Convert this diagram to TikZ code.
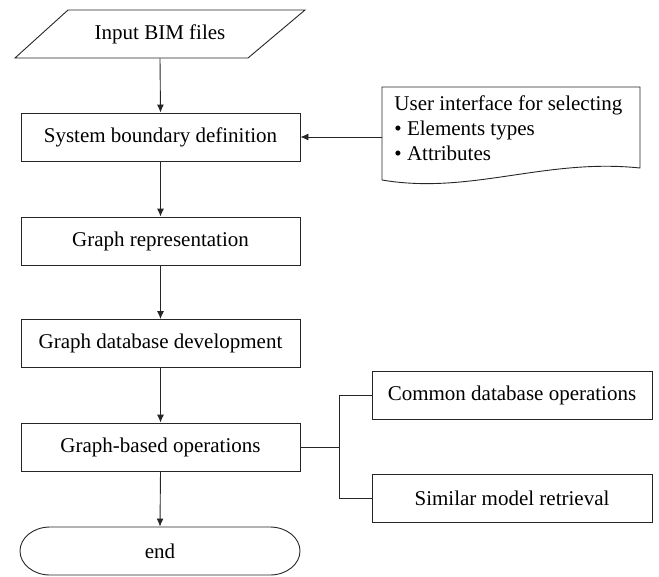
\documentclass[tikz,border=0pt]{standalone}
\usepackage{fontspec}
\setmainfont{Liberation Serif}
\usetikzlibrary{arrows.meta}
\begin{document}
\begin{tikzpicture}[x=1pt,y=-1pt,
  font=\rmfamily\fontsize{21}{25}\selectfont,
  line width=0.9pt,
  ln/.style={draw=black!85},
  proc/.style={draw=black!85, rectangle, minimum width=279pt, minimum height=48pt, inner sep=0pt},
  side/.style={draw=black!85, rectangle, minimum width=280pt, minimum height=48pt, inner sep=0pt},
  arr/.style={ln, -{Latex[length=8pt,width=7pt]}}
]
\useasboundingbox (0,0) rectangle (659,576);

% input parallelogram
\node[minimum width=233pt, minimum height=48pt, inner sep=0pt] (inp) at (160,34) {Input BIM files};
\draw[ln] (68,10) -- (305,10) -- (248,58) -- (15,58) -- cycle;

\node[proc] (sys) at (160.5,137) {System boundary definition};
\node[proc] (rep) at (160.5,241) {Graph representation};
\node[proc] (gdb) at (160.5,343.5) {Graph database development};
\node[proc] (gbo) at (160.5,447) {Graph-based operations};
\node[minimum width=280pt, minimum height=48pt, inner sep=0pt] (end) at (160,551) {end};
\draw[ln] (50,527) -- (270,527) arc (-90:90:30 and 24) -- (50,575) arc (90:270:30 and 24) -- cycle;

% document shape
\coordinate (docL) at (382,137);
\draw[ln] (382,87) -- (640,87) -- (640,168) .. controls (545,158) and (470,195) .. (382,180) -- cycle;
\node[anchor=north west, align=left, inner sep=0pt] (ui) at (394,95)
  {User interface for selecting\\\textbullet\ Elements types\\\textbullet\ Attributes};

\node[side] (cdo) at (512,395) {Common database operations};
\node[side] (smr) at (512,498) {Similar model retrieval};

\draw[arr] (inp.south) -- (sys.north);
\draw[arr] (sys.south) -- (rep.north);
\draw[arr] (rep.south) -- (gdb.north);
\draw[arr] (gdb.south) -- (gbo.north);
\draw[arr] (gbo.south) -- (end.north);
\draw[arr] (docL) -- (sys.east);

\draw[ln] (gbo.east) -- ++(39,0) coordinate (br);
\draw[ln] (cdo.west) -| (br) |- (smr.west);
\end{tikzpicture}
\end{document}
